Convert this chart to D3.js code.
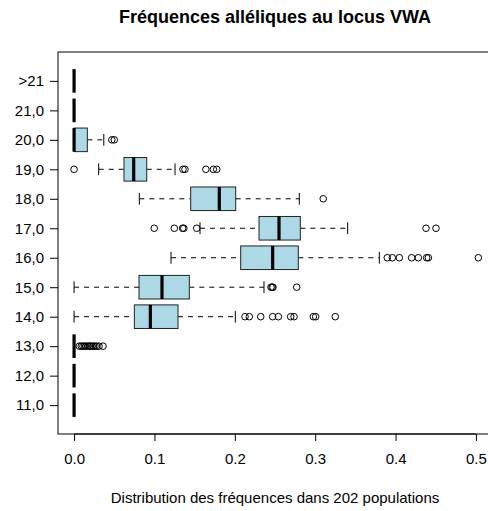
<!DOCTYPE html>
<html>
<head>
<meta charset="utf-8">
<script src="https://cdn.jsdelivr.net/npm/d3@7/dist/d3.min.js"></script>
<style>
  html, body { margin: 0; padding: 0; background: #fff; }
  svg text { font-family: "Liberation Sans", Arial, Helvetica, sans-serif; fill: #000; }
</style>
</head>
<body>
<svg id="chart" width="488" height="511"></svg>
<script>
// Allele categories, bottom to top
const categories = ["11,0", "12,0", "13,0", "14,0", "15,0", "16,0", "17,0", "18,0", "19,0", "20,0", "21,0", ">21"];

// Five-number summaries (whisker ends, quartiles, median)
const lowerWhisker = [0, 0, 0, 0, 0, 0.1206, 0.1567, 0.0812, 0.0306, 0, 0, 0];
const q1           = [0, 0, 0, 0.0750, 0.0808, 0.2073, 0.2301, 0.1451, 0.0621, 0, 0, 0];
const median       = [0, 0, 0, 0.0949, 0.1094, 0.2471, 0.2550, 0.1807, 0.0742, 0, 0, 0];
const q3           = [0, 0, 0, 0.1293, 0.1434, 0.2790, 0.2815, 0.2011, 0.0904, 0.0165, 0, 0];
const upperWhisker = [0, 0, 0, 0.2006, 0.2363, 0.3798, 0.3404, 0.2802, 0.1256, 0.0370, 0, 0];

// Outlying populations per category
const outliers = [
  [],
  [],
  [0.0065, 0.009, 0.011, 0.013, 0.015, 0.017, 0.019, 0.020, 0.022, 0.024, 0.026, 0.028, 0.031, 0.036],
  [0.2127, 0.2180, 0.2322, 0.2471, 0.2542, 0.2695, 0.2737, 0.2977, 0.3006, 0.3250],
  [0.2450, 0.2465, 0.2475, 0.2770],
  [0.3897, 0.3960, 0.4047, 0.4200, 0.4283, 0.4387, 0.4408, 0.5030],
  [0.0998, 0.1247, 0.1350, 0.1365, 0.1526, 0.4379, 0.4503],
  [0.3100],
  [0, 0.1355, 0.1380, 0.1640, 0.1733, 0.1775],
  [0.047, 0.050],
  [],
  []
];

const xTicks = [0, 0.1, 0.2, 0.3, 0.4, 0.5];

const title = "Fréquences alléliques au locus VWA";
const xTitle = "Distribution des fréquences dans 202 populations";

const svg = d3.select("#chart");
const plot = { left: 58, right: 492, top: 52, bottom: 434 };

const x = d3.scaleLinear().domain([-0.02, 0.52]).range([plot.left, plot.right]);
const y = d3.scaleLinear().domain([0.02, categories.length + 0.98]).range([plot.bottom, plot.top]);
const unit = Math.abs(y(1) - y(0));
const boxH = unit * 0.8;
const stapleH = boxH * 0.5;

const rows = categories.map((c, i) => ({
  cat: c, pos: i + 1,
  lo: lowerWhisker[i], q1: q1[i], med: median[i], q3: q3[i], hi: upperWhisker[i],
  out: outliers[i]
}));

const g = svg.append("g");

const row = g.selectAll("g.row").data(rows).join("g").attr("class", "row");

// dashed whiskers
row.append("line")
  .attr("x1", d => x(d.lo)).attr("x2", d => x(d.q1))
  .attr("y1", d => y(d.pos)).attr("y2", d => y(d.pos))
  .attr("stroke", "#000").attr("stroke-width", 1).attr("stroke-dasharray", "5,5");
row.append("line")
  .attr("x1", d => x(d.q3)).attr("x2", d => x(d.hi))
  .attr("y1", d => y(d.pos)).attr("y2", d => y(d.pos))
  .attr("stroke", "#000").attr("stroke-width", 1).attr("stroke-dasharray", "5,5");

// staples
row.each(function(d) {
  const s = d3.select(this);
  [d.lo, d.hi].forEach(v => {
    s.append("line")
      .attr("x1", x(v)).attr("x2", x(v))
      .attr("y1", y(d.pos) - stapleH / 2).attr("y2", y(d.pos) + stapleH / 2)
      .attr("stroke", "#000").attr("stroke-width", 1);
  });
});

// boxes
row.append("rect")
  .attr("x", d => x(d.q1))
  .attr("y", d => y(d.pos) - boxH / 2)
  .attr("width", d => x(d.q3) - x(d.q1))
  .attr("height", boxH)
  .attr("fill", "#ADD8E6")
  .attr("stroke", "#222").attr("stroke-width", 1);

// medians
row.append("line")
  .attr("x1", d => x(d.med)).attr("x2", d => x(d.med))
  .attr("y1", d => y(d.pos) - boxH / 2).attr("y2", d => y(d.pos) + boxH / 2)
  .attr("stroke", "#000").attr("stroke-width", 3.2);

// outliers
row.selectAll("circle")
  .data(d => d.out.map(v => ({ v, pos: d.pos })))
  .join("circle")
  .attr("cx", d => x(d.v)).attr("cy", d => y(d.pos))
  .attr("r", 3.3)
  .attr("fill", "none").attr("stroke", "#000").attr("stroke-width", 1);

// frame
svg.append("rect")
  .attr("x", plot.left).attr("y", plot.top)
  .attr("width", plot.right - plot.left).attr("height", plot.bottom - plot.top)
  .attr("fill", "none").attr("stroke", "#000").attr("stroke-width", 1);

// x axis
const xAxis = d3.axisBottom(x).tickValues(xTicks).tickFormat(d3.format(".1f")).tickSizeOuter(0).tickSize(7).tickPadding(12);
const xg = svg.append("g").attr("transform", `translate(0,${plot.bottom})`).call(xAxis);
xg.select(".domain").attr("d", `M${x(xTicks[0])},0H${x(xTicks[xTicks.length - 1])}`).attr("stroke", "#000");
xg.selectAll(".tick line").attr("stroke", "#000");
xg.selectAll(".tick text").attr("font-size", 15).style("font-family", "'Liberation Sans', Arial, sans-serif");

// y axis
const yAxis = d3.axisLeft(y).tickValues(d3.range(1, categories.length + 1))
  .tickFormat(d => categories[d - 1]).tickSizeOuter(0).tickSize(8).tickPadding(6);
const yg = svg.append("g").attr("transform", `translate(${plot.left},0)`).call(yAxis);
yg.select(".domain").remove();
yg.selectAll(".tick line").attr("stroke", "#000");
yg.selectAll(".tick text").attr("font-size", 15).style("font-family", "'Liberation Sans', Arial, sans-serif");

// titles
svg.append("text")
  .attr("x", (plot.left + plot.right) / 2).attr("y", 23)
  .attr("text-anchor", "middle").attr("font-size", 18).attr("font-weight", "bold")
  .text(title);
svg.append("text")
  .attr("x", (plot.left + plot.right) / 2).attr("y", 503)
  .attr("text-anchor", "middle").attr("font-size", 15)
  .text(xTitle);
</script>
</body>
</html>
